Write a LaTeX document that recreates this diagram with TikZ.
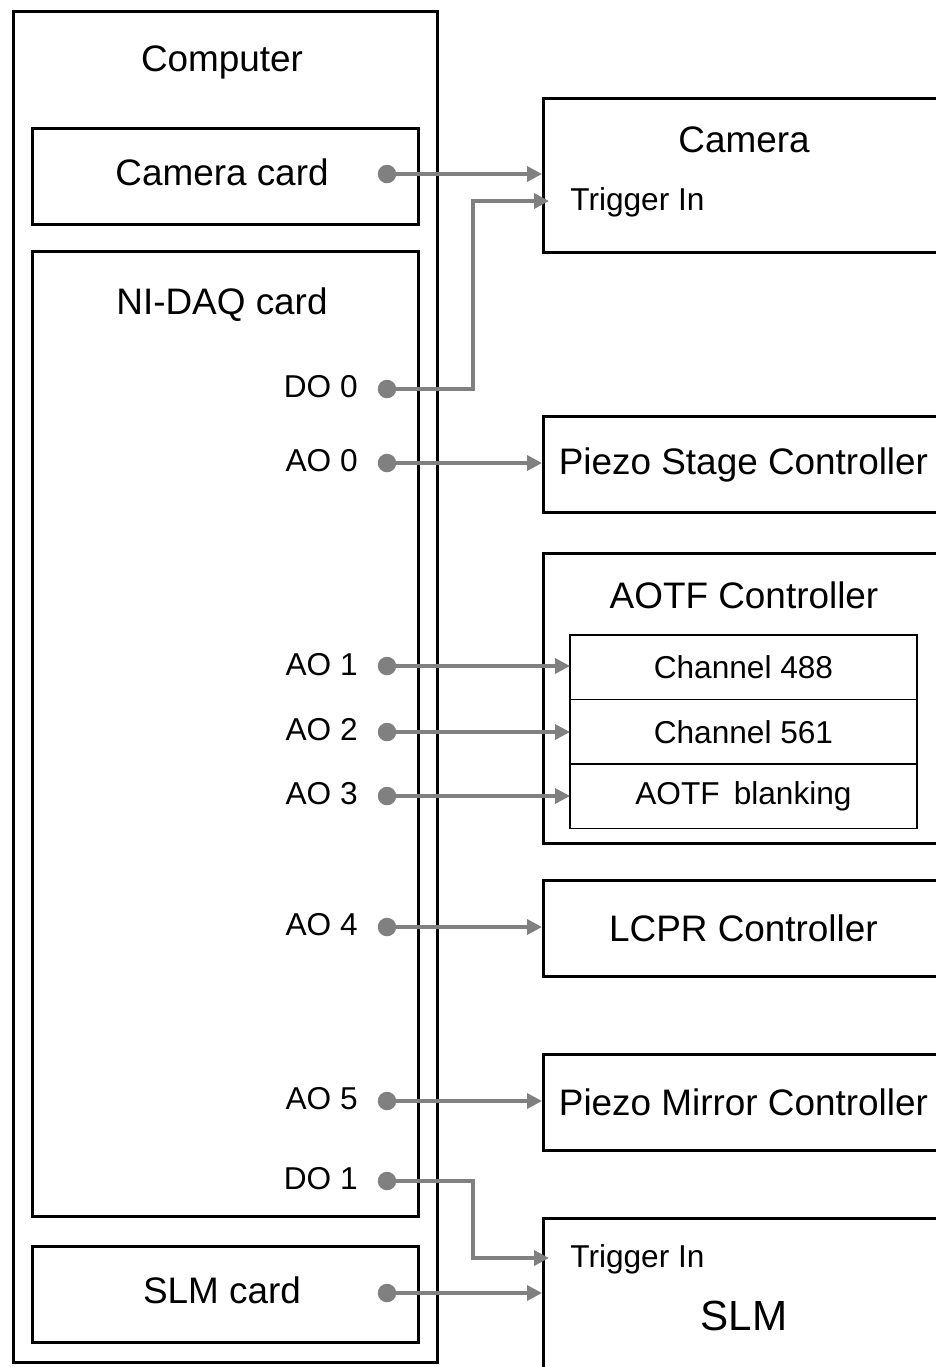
\documentclass[tikz,border=0pt]{standalone}
\usepackage{fontspec}
\setmainfont{Liberation Sans}
\usetikzlibrary{arrows.meta,positioning}

\definecolor{sgray}{RGB}{128,128,128}

\tikzset{
  box/.style={draw, line width=1.7pt, anchor=north west, inner sep=0pt},
  subbox/.style={draw, line width=1.1pt, minimum width=6.94cm, minimum height=1.29cm, inner sep=0pt, outer sep=0pt},
  big/.style={font=\fontsize{21}{25}\selectfont},
  small/.style={font=\fontsize{18}{21}\selectfont},
  port/.style={small, anchor=east, inner sep=0pt},
  dot/.style={circle, fill=sgray, minimum size=0.37cm, inner sep=0pt},
  sig/.style={draw=sgray, line width=2pt, -{Triangle[length=8.5pt,width=8.5pt]}},
}

\begin{document}
\begin{tikzpicture}[x=0.02cm, y=-0.02cm]

\useasboundingbox (0,0) rectangle (936,1367);
\clip (0,0) rectangle (936,1367);

% computer side
\node[box, minimum width=8.48cm, minimum height=27.02cm] (comp) at (12,10) {};
\node[big] (comptitle) at (222,62) {Computer};

\node[box, minimum width=7.72cm, minimum height=1.92cm] (camcard) at (31,127) {};
\node[big] (camcardlab) at (222,172) {Camera card};
\node[box, minimum width=7.72cm, minimum height=19.3cm] (daq) at (31,250) {};
\node[big] (daqtitle) at (222,305) {NI-DAQ card};
\node[box, minimum width=7.72cm, minimum height=1.92cm] (slmcard) at (31,1245) {};
\node[big] (slmcardlab) at (222,1290) {SLM card};

% ports
\node[dot] (camdot) at (387,174) {};
\node[dot] (slmdot) at (387,1293) {};

\node[dot] (do0) at (387,389) {};   \node[port] (do0lab) at (358,387) {DO 0};
\node[dot] (ao0) at (387,463) {};   \node[port] (ao0lab) at (358,461) {AO 0};
\node[dot] (ao1) at (387,666) {};   \node[port] (ao1lab) at (358,665) {AO 1};
\node[dot] (ao2) at (387,732) {};   \node[port] (ao2lab) at (358,730) {AO 2};
\node[dot] (ao3) at (387,796) {};   \node[port] (ao3lab) at (358,794) {AO 3};
\node[dot] (ao4) at (387,927) {};   \node[port] (ao4lab) at (358,925) {AO 4};
\node[dot] (ao5) at (387,1101) {};  \node[port] (ao5lab) at (358,1099) {AO 5};
\node[dot] (do1) at (387,1181) {};  \node[port] (do1lab) at (358,1179) {DO 1};

% devices
\node[box, minimum width=8cm, minimum height=3.08cm] (cam) at (542,97) {};
\node[big] (camtitle) at (744,140) {Camera};
\node[small, anchor=west, inner sep=0pt] (camtrig) at (570,202) {Trigger In};

\node[box, big, minimum width=8cm, minimum height=1.92cm] (pstage) at (542,415) {Piezo Stage Controller};

\node[box, minimum width=8cm, minimum height=5.8cm] (aotf) at (542,552) {};
\node[big] (aotftitle) at (744,595) {AOTF Controller};
\node[subbox, small, anchor=north west] (ch488) at (570,635) {Channel 488};
\node[subbox, small, below=0pt of ch488] (ch561) {Channel 561};
\node[subbox, small, below=0pt of ch561] (blank) {AOTF\, blanking};

\node[box, big, minimum width=8cm, minimum height=1.92cm] (lcpr) at (542,879) {LCPR Controller};
\node[box, big, minimum width=8cm, minimum height=1.92cm] (pmirror) at (542,1053) {Piezo Mirror Controller};

\node[box, minimum width=8cm, minimum height=4cm] (slm) at (542,1217) {};
\node[small, anchor=west, inner sep=0pt] (slmtrig) at (570,1259) {Trigger In};
\node[font=\fontsize{24}{28}\selectfont] (slmtitle) at (744,1316) {SLM};

% signals
\coordinate (camtrigin) at (549,201);
\coordinate (slmtrigin) at (549,1258);

\draw[sig] (camdot.center) -- (camdot.center -| cam.west);
\draw[sig] (do0.center) -- ++(86,0) |- (camtrigin);
\draw[sig] (ao0.center) -- (ao0.center -| pstage.west);
\draw[sig] (ao1.center) -- (ao1.center -| ch488.west);
\draw[sig] (ao2.center) -- (ao2.center -| ch561.west);
\draw[sig] (ao3.center) -- (ao3.center -| blank.west);
\draw[sig] (ao4.center) -- (ao4.center -| lcpr.west);
\draw[sig] (ao5.center) -- (ao5.center -| pmirror.west);
\draw[sig] (do1.center) -- ++(86,0) |- (slmtrigin);
\draw[sig] (slmdot.center) -- (slmdot.center -| slm.west);

\end{tikzpicture}
\end{document}
